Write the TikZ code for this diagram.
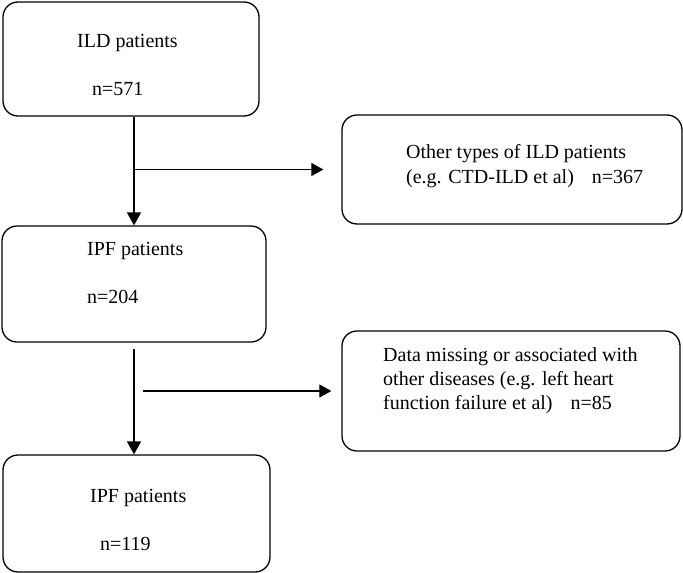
\documentclass[tikz,border=0pt]{standalone}
\usepackage{fontspec}
\setmainfont{Liberation Serif}
\usetikzlibrary{arrows.meta}

\begin{document}
\begin{tikzpicture}[x=1pt,y=-1pt,
  box/.style={draw=black, line width=1.3pt, rounded corners=15pt, shape=rectangle, inner sep=0pt},
  txt/.style={anchor=base west, inner sep=0pt, font=\fontsize{20}{24}\selectfont},
  down/.style={line width=1.8pt, -{Triangle[length=13pt,width=14pt]}},
  side/.style={line width=1.1pt, -{Triangle[length=12pt,width=13pt]}}]

\useasboundingbox (0,0) rectangle (683,573);

%% - Draw boxes
%% - --------------------------------------

\node[box, minimum width=256pt, minimum height=114pt] (ild) at (131,59) {};
\node[box, minimum width=340pt, minimum height=109pt] (other) at (512,169.5) {};
\node[box, minimum width=264pt, minimum height=116pt] (ipf) at (134,284) {};
\node[box, minimum width=338pt, minimum height=120pt] (missing) at (511,391) {};
\node[box, minimum width=267pt, minimum height=117pt] (ipfend) at (136.5,513.5) {};

%% - Draw arrows
%% - --------------------------------------

\draw[down] (ild.south -| ipf.north) -- (ipf.north);
\coordinate (j1) at (ipf.north |- other.west);
\draw[side, shorten >=18pt] (j1) -- (other.west);

\draw[down, shorten <=6pt] (ipf.south) -- (ipf.south |- ipfend.north);
\coordinate (j2) at (ipf.south |- missing.west);
\draw[side, shorten <=9pt, shorten >=10pt] (j2) -- (missing.west);

%% - Draw Texts
%% - --------------------------------------

\node[txt] (ildtxt) at (77,47) {ILD patients};
\node[txt] (ildn) at (92,95) {n=571};

\node[txt] (othertxt) at (406,158) {Other types of ILD patients};
\node[txt] (othern) at (406,183) {(e.g. CTD-ILD et al)\hspace{0.9em}n=367};

\node[txt] (ipftxt) at (87,255) {IPF patients};
\node[txt] (ipfn) at (87,303) {n=204};

\node[txt] (missing1) at (383,361) {Data missing or associated with};
\node[txt] (missing2) at (383,385) {other diseases (e.g. left heart};
\node[txt] (missing3) at (383,409) {function failure et al)\hspace{0.9em}n=85};

\node[txt] (endtxt) at (90,502) {IPF patients};
\node[txt] (endn) at (100,550) {n=119};

\end{tikzpicture}
\end{document}
